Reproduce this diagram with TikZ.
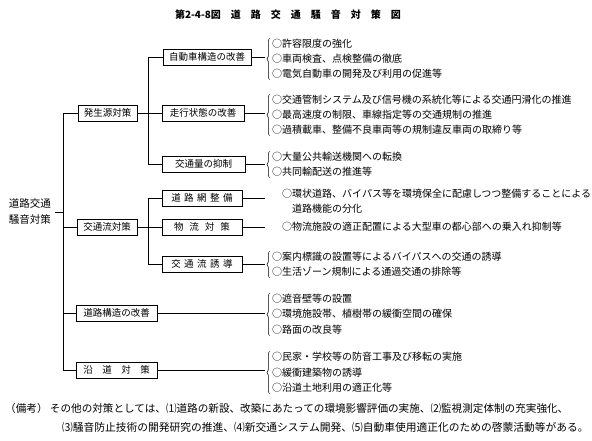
\documentclass[tikz,border=0pt]{standalone}
\usepackage{fontspec}
\setmainfont{Noto Sans CJK JP}
\usetikzlibrary{positioning, calc, decorations.pathreplacing}
\newcommand{\kgap}{\hspace{3.5pt}}

\begin{document}
\begin{tikzpicture}[
    x=1pt, y=-1pt,
    box/.style={draw, line width=0.85pt, inner sep=0pt, minimum height=16pt, font=\fontsize{9.5}{11}\selectfont},
    item/.style={anchor=west, inner sep=0pt, font=\fontsize{10}{12}\selectfont},
    note/.style={anchor=west, inner sep=0pt, font=\fontsize{10.6}{12}\selectfont},
    brc/.style={decorate, decoration={brace, amplitude=2.5pt}, line width=0.5pt},
    conn/.style={line width=0.85pt}
  ]
  \useasboundingbox (0,0) rectangle (592,441);
  % --- title ---
  \node[font=\bfseries\fontsize{10}{12}\selectfont] (title) at (288,15) {第2-4-8図\quad 道　路　交　通　騒　音　対　策　図};

  % --- root and first level ---
  \node[align=center, font=\fontsize{10.5}{16}\selectfont] (root) at (30,212) {道路交通\\騒音対策};
  \node[box, minimum width=59] (src) at (107.5,113) {発生源対策};
  \node[box, minimum width=60] (flow) at (107,227) {交通流対策};
  \node[box, minimum width=81] (road) at (116.5,313) {道路構造の改善};
  \node[box, minimum width=81] (side) at (116.5,370) {沿　道　対　策};
  \coordinate (trunk) at (63,0);
  \draw[conn] (root.east) -- (root.east -| trunk);
  \draw[conn] (src.west) -- (src.west -| trunk) -- (side.west -| trunk) -- (side.west);
  \draw[conn] (flow.west) -- (flow.west -| trunk);
  \draw[conn] (road.west) -- (road.west -| trunk);

  % --- second level ---
  \node[box, minimum width=88] (car) at (207,57) {自動車構造の改善};
  \node[box, minimum width=82] (drive) at (203,113) {走行状態の改善};
  \node[box, minimum width=83] (vol) at (203.5,164) {交通量の抑制};
  \node[box, minimum width=80] (net) at (202,198) {道\kgap 路\kgap 網\kgap 整\kgap 備};
  \node[box, minimum width=80] (dist) at (202,227) {物\hspace{6pt}流\hspace{6pt}対\hspace{6pt}策};
  \node[box, minimum width=80] (guide) at (202,264) {交\kgap 通\kgap 流\kgap 誘\kgap 導};
  \coordinate (spine) at (148,0);
  \draw[conn] (src.east) -- (src.east -| spine);
  \draw[conn] (car.west) -- (car.west -| spine) -- (vol.west -| spine) -- (vol.west);
  \draw[conn] (drive.west) -- (drive.west -| spine);
  \draw[conn] (flow.east) -- (flow.east -| spine);
  \draw[conn] (net.west) -- (net.west -| spine) -- (guide.west -| spine) -- (guide.west);
  \draw[conn] (dist.west) -- (dist.west -| spine);

  % --- measures ---
  \node[item] (car1) at (272,44) {○許容限度の強化};
  \node[item] (car2) at (272,59) {○車両検査、点検整備の徹底};
  \node[item] (car3) at (272,74) {○電気自動車の開発及び利用の促進等};
  \node[item] (drv1) at (272,100) {○交通管制システム及び信号機の系統化等による交通円滑化の推進};
  \node[item] (drv2) at (272,115) {○最高速度の制限、車線指定等の交通規制の推進};
  \node[item] (drv3) at (272,130) {○過積載車、整備不良車両等の規制違反車両の取締り等};
  \node[item] (vol1) at (272,157) {○大量公共輸送機関への転換};
  \node[item] (vol2) at (272,172) {○共同輸配送の推進等};
  \node[item] (net1) at (282,194) {○環状道路、バイパス等を環境保全に配慮しつつ整備することによる};
  \node[item] (net2) at (292,209) {道路機能の分化};
  \node[item] (dst1) at (282,227) {○物流施設の適正配置による大型車の都心部への乗入れ抑制等};
  \node[item] (gd1) at (272,257) {○案内標識の設置等によるバイパスへの交通の誘導};
  \node[item] (gd2) at (272,272) {○生活ゾーン規制による通過交通の排除等};
  \node[item] (rd1) at (272,299) {○遮音壁等の設置};
  \node[item] (rd2) at (272,314) {○環境施設帯、植樹帯の緩衝空間の確保};
  \node[item] (rd3) at (272,330) {○路面の改良等};
  \node[item] (sd1) at (272,357) {○民家・学校等の防音工事及び移転の実施};
  \node[item] (sd2) at (272,373) {○緩衝建築物の誘導};
  \node[item] (sd3) at (272,388) {○沿道土地利用の適正化等};

  % --- short connectors and braces ---
  \coordinate (tip) at (265,0);
  \foreach \b in {car, drive, vol, net, dist, guide, road, side}
    \draw[conn] (\b.east) -- (\b.east -| tip);
  \foreach \t/\u in {car1/car3, drv1/drv3, vol1/vol2, gd1/gd2, rd1/rd3, sd1/sd3}
    \draw[brc] ([xshift=-2.5pt, yshift=-1pt]\u.south west) -- ([xshift=-2.5pt, yshift=1pt]\t.north west);

  % --- remarks ---
  \node[note] (note1) at (5,408) {（備考）\ その他の対策としては、⑴道路の新設、改築にあたっての環境影響評価の実施、⑵監視測定体制の充実強化、};
  \node[note, font=\fontsize{10.75}{12}\selectfont] (note2) at (62,427) {⑶騒音防止技術の開発研究の推進、⑷新交通システム開発、⑸自動車使用適正化のための啓蒙活動等がある。};
\end{tikzpicture}
\end{document}
